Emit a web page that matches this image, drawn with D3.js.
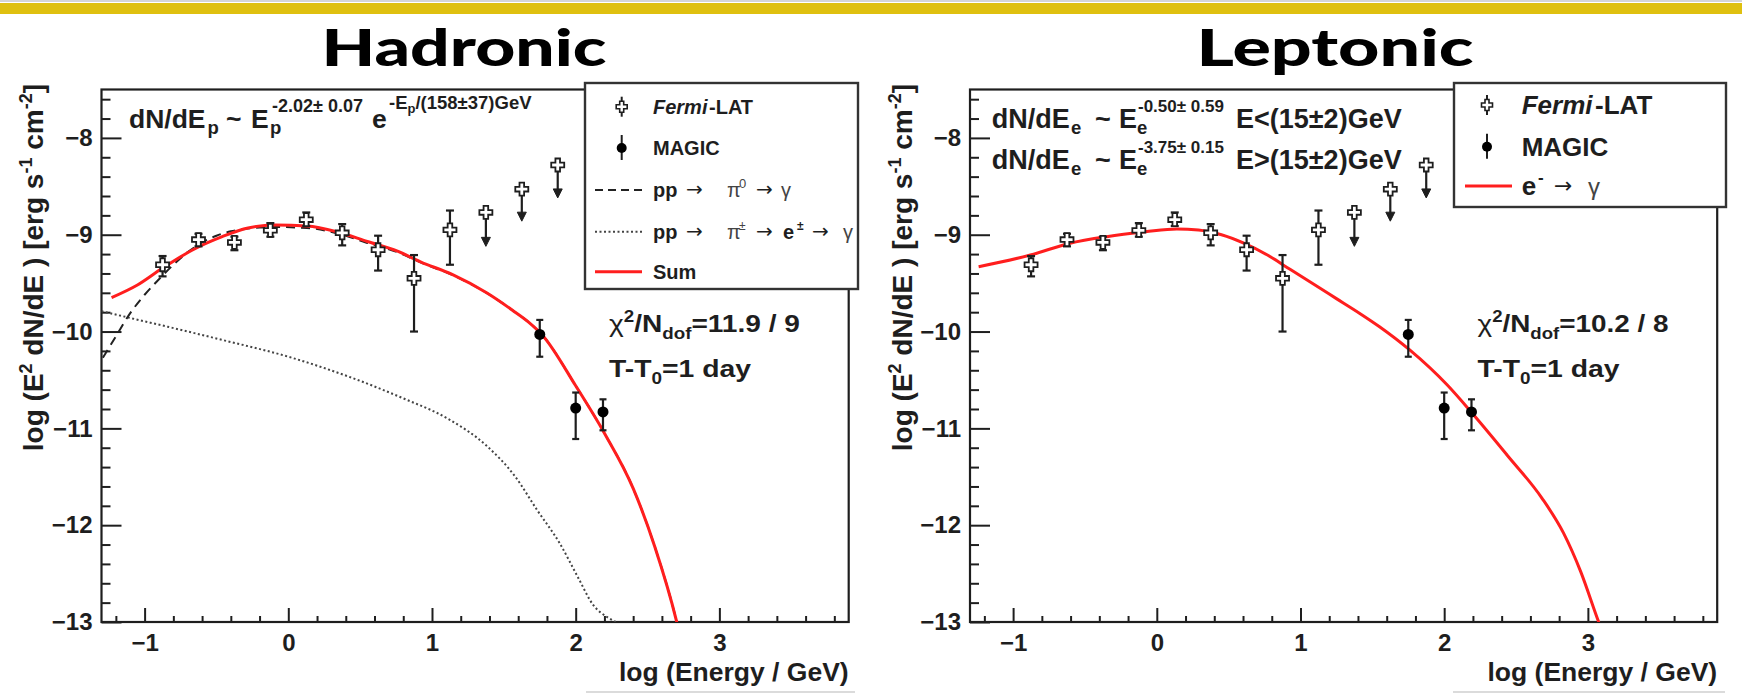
<!DOCTYPE html>
<html>
<head>
<meta charset="utf-8">
<script src="https://cdn.jsdelivr.net/npm/d3@7"></script>
<style>
    body { margin: 0; background: #fff; }
    svg { display: block; font-family: "Liberation Sans", Arial, sans-serif; }
</style>
</head>
<body>
<div id="chart"></div>
<script>
// ---- data (log10 E/GeV , log10 E^2 dN/dE) ----

// Fermi-LAT points with error bars
var fermiX = [-0.875, -0.625, -0.375, -0.125, 0.125, 0.375, 0.625, 0.875, 1.125];
var fermiY = [-9.31, -9.05, -9.08, -8.955, -8.845, -8.98, -9.155, -9.45, -8.95];
var fermiLo = [-9.43, -9.12, -9.16, -9.02, -8.91, -9.11, -9.37, -10.0, -9.31];
var fermiHi = [-9.22, -8.99, -9.02, -8.88, -8.77, -8.89, -9.01, -9.21, -8.75];

// Fermi-LAT upper limits
var ulX = [1.375, 1.625, 1.875];
var ulY = [-8.77, -8.53, -8.28];
var ulTip = [-9.12, -8.86, -8.62];

// MAGIC points
var magicX = [1.75, 2.0, 2.19];
var magicY = [-10.03, -10.79, -10.83];
var magicLo = [-10.26, -11.11, -11.02];
var magicHi = [-9.88, -10.63, -10.70];

// Hadronic model: sum
var hadSumX = [-1.23, -1.05, -0.88, -0.67, -0.46, -0.28, -0.09, 0.13, 0.34, 0.55, 0.76, 0.92, 1.14, 1.38, 1.56, 1.67, 1.77, 2.0, 2.2, 2.4, 2.55, 2.7, 2.75];
var hadSumY = [-9.65, -9.52, -9.35, -9.16, -9.02, -8.93, -8.90, -8.91, -8.97, -9.07, -9.17, -9.28, -9.41, -9.60, -9.78, -9.90, -10.04, -10.56, -11.05, -11.62, -12.22, -12.98, -13.3];

// Hadronic model: pp -> pi0 -> gamma
var hadPi0X = [-1.29, -1.2, -1.1, -1.0, -0.9, -0.8, -0.7, -0.6, -0.5, -0.4, -0.3, -0.2, -0.1, 0.13, 0.34, 0.55, 0.76, 0.92, 1.14, 1.38, 1.56, 1.67, 1.77, 2.0, 2.2, 2.4, 2.55, 2.7, 2.75];
var hadPi0Y = [-10.27, -10.05, -9.81, -9.62, -9.46, -9.31, -9.18, -9.08, -9.01, -8.965, -8.94, -8.925, -8.92, -8.93, -8.985, -9.085, -9.18, -9.285, -9.415, -9.60, -9.78, -9.90, -10.04, -10.56, -11.05, -11.62, -12.22, -12.98, -13.3];

// Hadronic model: pp -> pi+- -> e+- -> gamma
var hadPionX = [-1.3, -1.1, -0.84, -0.45, 0.0, 0.41, 0.8, 1.11, 1.38, 1.58, 1.73, 1.89, 2.02, 2.12, 2.22, 2.28];
var hadPionY = [-9.79, -9.86, -9.95, -10.09, -10.26, -10.46, -10.69, -10.9, -11.18, -11.5, -11.84, -12.19, -12.55, -12.82, -12.95, -13.0];

// Leptonic model: e- -> gamma
var lepX = [-1.24, -0.88, -0.61, -0.35, -0.08, 0.14, 0.29, 0.45, 0.61, 0.77, 0.93, 1.09, 1.25, 1.41, 1.55, 1.76, 2.02, 2.21, 2.44, 2.68, 2.83, 2.95, 3.07, 3.1];
var lepY = [-9.33, -9.21, -9.09, -9.02, -8.97, -8.94, -8.95, -9.0, -9.09, -9.21, -9.36, -9.51, -9.66, -9.81, -9.95, -10.19, -10.55, -10.87, -11.28, -11.72, -12.08, -12.48, -12.98, -13.1];

// axis ticks
var xTicks = [-1, 0, 1, 2, 3];
var yTicks = [-8, -9, -10, -11, -12, -13];

function init() {
    var width = 1742;
    var height = 694;
    var ink = "#1e1e1e";

    var svg = d3.select("#chart")
        .append("svg")
        .attr("width", width)
        .attr("height", height);

    // slide decoration
    svg.append("line").attr("x1", 0).attr("x2", width).attr("y1", 1).attr("y2", 1)
        .attr("stroke", "#d4d4d4").attr("stroke-width", 2);
    svg.append("rect").attr("x", 0).attr("y", 3).attr("width", width).attr("height", 11)
        .attr("fill", "#dfc00f");

    // slide titles
    svg.append("text").attr("x", 464).attr("y", 66)
        .attr("text-anchor", "middle")
        .attr("textLength", 285).attr("lengthAdjust", "spacingAndGlyphs")
        .style("font-family", "Lato, 'Open Sans', sans-serif")
        .style("font-weight", 900).style("font-size", "51px")
        .text("Hadronic");
    svg.append("text").attr("x", 1335).attr("y", 66)
        .attr("text-anchor", "middle")
        .attr("textLength", 277).attr("lengthAdjust", "spacingAndGlyphs")
        .style("font-family", "Lato, 'Open Sans', sans-serif")
        .style("font-weight", 900).style("font-size", "51px")
        .text("Leptonic");

    // open cross marker used for Fermi-LAT
    function crossPath(s, a) {
        return "M" + (-a) + "," + (-s) + "H" + a + "V" + (-a) + "H" + s + "V" + a + "H" + a +
            "V" + s + "H" + (-a) + "V" + a + "H" + (-s) + "V" + (-a) + "H" + (-a) + "Z";
    }

    function txt(parent, x, y, size, s, opt) {
        opt = opt || {};
        var t = parent.append("text")
            .attr("x", x).attr("y", y)
            .attr("fill", opt.fill || ink)
            .style("font-size", size + "px")
            .style("font-weight", opt.weight || "bold")
            .style("font-style", opt.italic ? "italic" : "normal")
            .text(s);
        if (opt.family) t.style("font-family", opt.family);
        return t;
    }

    var arrow = { weight: "normal", family: "'DejaVu Sans', sans-serif" };
    var greek = { weight: "normal", fill: "#444" };

    function drawPanel(off, cfg) {
        var left = 101.5 + off, right = 848.7 + off, top = 89.5, bottom = 622;
        var x = d3.scaleLinear().domain([-1.3, 3.9]).range([left, right]);
        var y = d3.scaleLinear().domain([-13, -7.5]).range([bottom, top]);
        var g = svg.append("g");

        // clip for curves
        g.append("clipPath").attr("id", "clip" + cfg.name)
            .append("rect").attr("x", left).attr("y", top)
            .attr("width", right - left).attr("height", bottom - top);

        // minor / major ticks, pointing inwards
        var xMinor = d3.range(-6, 20).map(function (d) { return d / 5; })
            .filter(function (d) { return Math.round(d) !== d; });
        var yMinor = d3.range(-65, -37).map(function (d) { return d / 5; })
            .filter(function (d) { return Math.round(d) !== d; });

        function styleAxis(a) {
            a.select(".domain").remove();
            a.style("color", ink);
            a.selectAll("line").attr("stroke-width", 2);
            a.selectAll("text")
                .attr("font-family", null).attr("font-size", null)
                .style("font-size", "24px").style("font-weight", "bold").attr("fill", ink);
        }

        g.append("g").attr("transform", "translate(0," + bottom + ")")
            .call(d3.axisBottom(x).tickValues(xMinor).tickSize(-6).tickFormat(""))
            .call(styleAxis);
        g.append("g").attr("transform", "translate(0," + bottom + ")")
            .call(d3.axisBottom(x).tickValues(xTicks).tickSize(-14).tickPadding(12).tickFormat(d3.format("d")))
            .call(styleAxis);
        g.append("g").attr("transform", "translate(" + left + ",0)")
            .call(d3.axisLeft(y).tickValues(yMinor).tickSize(-9).tickFormat(""))
            .call(styleAxis);
        g.append("g").attr("transform", "translate(" + left + ",0)")
            .call(d3.axisLeft(y).tickValues(yTicks).tickSize(-20).tickPadding(9).tickFormat(d3.format("d")))
            .call(styleAxis);

        // frame
        g.append("rect").attr("x", left).attr("y", top)
            .attr("width", right - left).attr("height", bottom - top)
            .attr("fill", "none").attr("stroke", ink).attr("stroke-width", 2.2);

        // axis titles
        var yt = g.append("text")
            .attr("transform", "translate(" + (43 + off) + ",84) rotate(-90)")
            .attr("text-anchor", "end").attr("fill", ink)
            .style("font-size", "28px").style("font-weight", "bold");
        yt.append("tspan").text("log (E");
        yt.append("tspan").attr("dy", -11).style("font-size", "18px").text("2");
        yt.append("tspan").attr("dy", 11).text(" dN/dE ) [erg s");
        yt.append("tspan").attr("dy", -11).style("font-size", "18px").text("-1");
        yt.append("tspan").attr("dy", 11).text(" cm");
        yt.append("tspan").attr("dy", -11).style("font-size", "18px").text("-2");
        yt.append("tspan").attr("dy", 11).text("]");

        txt(g, right, 681, 26.5, "log (Energy / GeV)").attr("text-anchor", "end");

        // model curves
        var line = d3.line()
            .x(function (d) { return x(d[0]); })
            .y(function (d) { return y(d[1]); })
            .curve(d3.curveMonotoneX);
        var curves = g.append("g").attr("clip-path", "url(#clip" + cfg.name + ")");
        cfg.curves.forEach(function (c) {
            curves.append("path")
                .datum(d3.zip(c.x, c.y))
                .attr("d", line)
                .attr("fill", "none")
                .attr("stroke", c.color)
                .attr("stroke-width", c.width)
                .attr("stroke-dasharray", c.dash || null);
        });

        // Fermi-LAT points
        var pts = g.append("g").attr("stroke", ink).attr("stroke-width", 2.2);
        fermiX.forEach(function (v, i) {
            var px = x(v);
            pts.append("line").attr("x1", px).attr("x2", px).attr("y1", y(fermiHi[i])).attr("y2", y(fermiLo[i]));
            pts.append("line").attr("x1", px - 4).attr("x2", px + 4).attr("y1", y(fermiHi[i])).attr("y2", y(fermiHi[i]));
            pts.append("line").attr("x1", px - 4).attr("x2", px + 4).attr("y1", y(fermiLo[i])).attr("y2", y(fermiLo[i]));
            pts.append("path").attr("d", crossPath(6.5, 2.3))
                .attr("transform", "translate(" + px + "," + y(fermiY[i]) + ")")
                .attr("fill", "#fff").attr("stroke-width", 1.8);
        });

        // Fermi-LAT upper limits
        ulX.forEach(function (v, i) {
            var px = x(v), tip = y(ulTip[i]);
            pts.append("line").attr("x1", px).attr("x2", px).attr("y1", y(ulY[i])).attr("y2", tip - 6);
            pts.append("path")
                .attr("d", "M" + (px - 4.5) + "," + (tip - 9) + "L" + (px + 4.5) + "," + (tip - 9) + "L" + px + "," + tip + "Z")
                .attr("fill", ink).attr("stroke-width", 1);
            pts.append("path").attr("d", crossPath(6.5, 2.3))
                .attr("transform", "translate(" + px + "," + y(ulY[i]) + ")")
                .attr("fill", "#fff").attr("stroke-width", 1.8);
        });

        // MAGIC points
        magicX.forEach(function (v, i) {
            var px = x(v);
            pts.append("line").attr("x1", px).attr("x2", px).attr("y1", y(magicHi[i])).attr("y2", y(magicLo[i]));
            pts.append("line").attr("x1", px - 3.5).attr("x2", px + 3.5).attr("y1", y(magicHi[i])).attr("y2", y(magicHi[i]));
            pts.append("line").attr("x1", px - 3.5).attr("x2", px + 3.5).attr("y1", y(magicLo[i])).attr("y2", y(magicLo[i]));
            pts.append("circle").attr("cx", px).attr("cy", y(magicY[i])).attr("r", 5.5)
                .attr("fill", "#000").attr("stroke", "none");
        });

        // fit annotations
        cfg.formula(g, left);

        var chi = g.append("text").attr("x", left + 507.5).attr("y", 332)
            .attr("fill", ink).attr("textLength", 191).attr("lengthAdjust", "spacingAndGlyphs")
            .style("font-size", "24px").style("font-weight", "bold");
        chi.append("tspan").style("font-weight", "normal").text("χ");
        chi.append("tspan").attr("dy", -10).style("font-size", "16px").text("2");
        chi.append("tspan").attr("dy", 10).text("/N");
        chi.append("tspan").attr("dy", 7).style("font-size", "16px").text("dof");
        chi.append("tspan").attr("dy", -7).text("=" + cfg.chi);

        var tt = g.append("text").attr("x", left + 507.5).attr("y", 377)
            .attr("fill", ink).attr("textLength", 142).attr("lengthAdjust", "spacingAndGlyphs")
            .style("font-size", "24px").style("font-weight", "bold");
        tt.append("tspan").text("T-T");
        tt.append("tspan").attr("dy", 7).style("font-size", "16px").text("0");
        tt.append("tspan").attr("dy", -7).text("=1 day");

        // legend
        var L = cfg.legend;
        var lg = g.append("g");
        lg.append("rect").attr("x", L.x).attr("y", L.y).attr("width", L.w).attr("height", L.h)
            .attr("fill", "#fff").attr("stroke", "#333").attr("stroke-width", 2.4);
        L.rows.forEach(function (r) {
            var cy = r.y;
            if (r.kind === "fermi") {
                lg.append("line").attr("x1", L.mx).attr("x2", L.mx).attr("y1", cy - 10).attr("y2", cy + 10)
                    .attr("stroke", ink).attr("stroke-width", 2);
                lg.append("path").attr("d", crossPath(5.5, 2))
                    .attr("transform", "translate(" + L.mx + "," + cy + ")")
                    .attr("fill", "#fff").attr("stroke", ink).attr("stroke-width", 1.6);
            } else if (r.kind === "magic") {
                lg.append("line").attr("x1", L.mx).attr("x2", L.mx).attr("y1", cy - 13).attr("y2", cy + 12)
                    .attr("stroke", ink).attr("stroke-width", 2);
                lg.append("circle").attr("cx", L.mx).attr("cy", cy).attr("r", 5).attr("fill", "#000");
            } else {
                lg.append("line").attr("x1", L.lx0).attr("x2", L.lx1).attr("y1", cy).attr("y2", cy)
                    .attr("stroke", r.color).attr("stroke-width", r.width)
                    .attr("stroke-dasharray", r.dash || null);
            }
            r.parts.forEach(function (p) {
                txt(lg, p[0], cy + p[2], p[3], p[1], p[4]);
            });
        });
    }

    // ---- left: hadronic ----
    drawPanel(0, {
        name: "had",
        chi: "11.9 / 9",
        curves: [
            { x: hadPionX, y: hadPionY, color: "#444", width: 2, dash: "2,2.5" },
            { x: hadPi0X, y: hadPi0Y, color: "#222", width: 2, dash: "9,6" },
            { x: hadSumX, y: hadSumY, color: "#ff1e1e", width: 3 }
        ],
        formula: function (g, left) {
            var B = 127.7;
            txt(g, 129, B, 26.5, "dN/dE");
            txt(g, 207.5, B + 6, 18.5, "p");
            txt(g, 226, B, 26.5, "~");
            txt(g, 251, B, 26.5, "E");
            txt(g, 270, B + 6, 18.5, "p");
            txt(g, 272, B - 16, 18, "-2.02\u00b1 0.07");
            txt(g, 372, B, 26.5, "e");
            var s = txt(g, 389, B - 19, 18.5, "-E");
            s.append("tspan").attr("dy", 4).style("font-size", "13px").text("p");
            s.append("tspan").attr("dy", -4).text("/(158\u00b137)GeV");
        },
        legend: {
            x: 585, y: 83, w: 273, h: 206, mx: 621.7, lx0: 595, lx1: 642,
            rows: [
                { y: 106.7, kind: "fermi", parts: [[653, "Fermi", 7, 20, { italic: true }], [709, "-LAT", 7, 20]] },
                { y: 148, kind: "magic", parts: [[653, "MAGIC", 7, 20]] },
                { y: 190, kind: "line", color: "#222", width: 2, dash: "8,5",
                  parts: [[653, "pp", 7, 20], [686, "\u2192", 6, 20, arrow],
                          [727, "\u03c0", 7, 20, greek], [739, "0", -2, 13, greek],
                          [756, "\u2192", 6, 20, arrow], [781, "\u03b3", 7, 20, greek]] },
                { y: 231.7, kind: "line", color: "#444", width: 2, dash: "2,2.5",
                  parts: [[653, "pp", 7, 20], [686, "\u2192", 6, 20, arrow],
                          [727, "\u03c0", 7, 20, greek], [739, "\u00b1", -2, 12, greek],
                          [756, "\u2192", 6, 20, arrow], [783, "e", 7, 20], [797, "\u00b1", -2, 12],
                          [812, "\u2192", 6, 20, arrow], [843, "\u03b3", 7, 20, greek]] },
                { y: 271.7, kind: "line", color: "#ff1e1e", width: 3, parts: [[653, "Sum", 7, 20]] }
            ]
        }
    });

    // ---- right: leptonic ----
    drawPanel(868.5, {
        name: "lep",
        chi: "10.2 / 8",
        curves: [
            { x: lepX, y: lepY, color: "#ff1e1e", width: 3 }
        ],
        formula: function (g, left) {
            [[127.7, "-0.50\u00b1 0.59", "E<(15\u00b12)GeV"], [169, "-3.75\u00b1 0.15", "E>(15\u00b12)GeV"]].forEach(function (r) {
                var B = r[0];
                txt(g, 991.7, B, 27, "dN/dE");
                txt(g, 1071, B + 6, 18.5, "e");
                txt(g, 1095, B, 27, "~");
                txt(g, 1119, B, 27, "E");
                txt(g, 1137, B + 6, 18.5, "e");
                txt(g, 1138, B - 16, 17, r[1]);
                txt(g, 1236, B, 27, r[2]);
            });
        },
        legend: {
            x: 1454, y: 83, w: 272, h: 124, mx: 1487, lx0: 1465, lx1: 1512,
            rows: [
                { y: 105, kind: "fermi", parts: [[1521.7, "Fermi", 9, 26, { italic: true }], [1595, "-LAT", 9, 26]] },
                { y: 146.7, kind: "magic", parts: [[1521.7, "MAGIC", 9, 26]] },
                { y: 186, kind: "line", color: "#ff1e1e", width: 3,
                  parts: [[1521.7, "e", 9, 26], [1538, "-", -3, 17], [1554, "\u2192", 7, 22, arrow],
                          [1588, "\u03b3", 9, 24, greek]] }
            ]
        }
    });

    // thin grey rule at the bottom edge (pasted figure border)
    svg.append("line").attr("x1", 586).attr("x2", 855).attr("y1", 692).attr("y2", 692)
        .attr("stroke", "#cfcfcf").attr("stroke-width", 1.5);
    svg.append("line").attr("x1", 1453).attr("x2", 1725).attr("y1", 692).attr("y2", 692)
        .attr("stroke", "#cfcfcf").attr("stroke-width", 1.5);
}

window.onload = init;
</script>
</body>
</html>
